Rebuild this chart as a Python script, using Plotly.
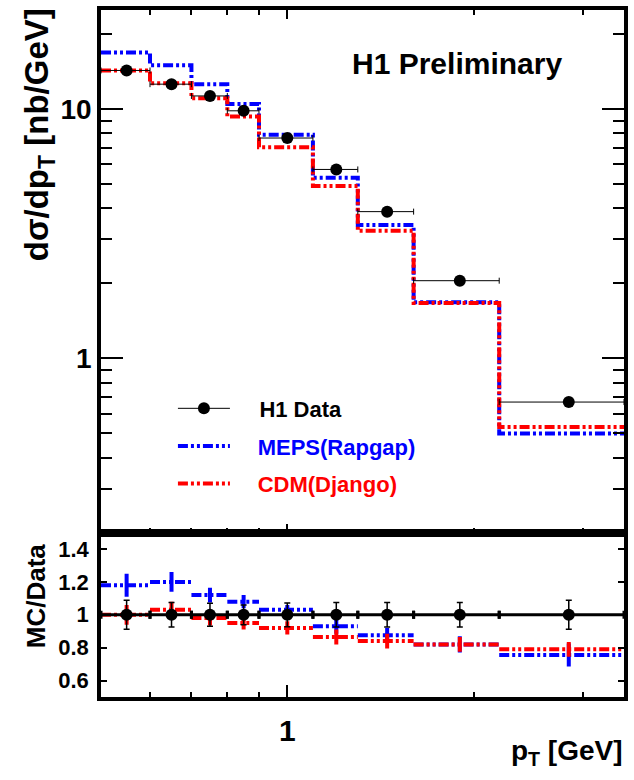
import plotly.graph_objects as go

# ---------------- data ----------------
bin_edges = [0.5, 0.6, 0.7, 0.8, 0.9, 1.1, 1.3, 1.6, 2.2, 3.5]
pt_centers = [0.55, 0.65, 0.75, 0.85, 1.0, 1.2, 1.45, 1.9, 2.85]

h1_data = [14.3, 12.6, 11.3, 9.85, 7.66, 5.73, 3.88, 2.05, 0.668]
data_rel_err = [0.088, 0.074, 0.07, 0.06, 0.072, 0.075, 0.074, 0.074, 0.088]

meps_rapgap = [16.9, 15.0, 12.6, 10.5, 7.9, 5.31, 3.43, 1.68, 0.50]
cdm_django = [14.3, 12.7, 11.06, 9.35, 7.03, 4.92, 3.25, 1.67, 0.531]

data_ratio = [1, 1, 1, 1, 1, 1, 1, 1, 1]
meps_ratio = [1.18, 1.20, 1.12, 1.08, 1.03, 0.93, 0.875, 0.82, 0.755]
meps_ratio_err = [0.07, 0.06, 0.045, 0.04, 0.03, 0.045, 0.045, 0.05, 0.07]
cdm_ratio = [1.0, 1.03, 0.98, 0.95, 0.92, 0.865, 0.84, 0.82, 0.79]
cdm_ratio_err = [0.06, 0.05, 0.045, 0.04, 0.04, 0.045, 0.045, 0.045, 0.045]

x_tickvals = [1]
x_ticktext = ["1"]
x_minor = [0.6, 0.7, 0.8, 0.9, 2, 3]
y_tickvals = [1, 10]
y_ticktext = ["1", "10"]
y_minor = [0.2, 0.3, 0.4, 0.5, 0.6, 0.7, 0.8, 0.9, 2, 3, 4, 5, 6, 7, 8, 9, 20]
r_tickvals = [0.6, 0.8, 1.0, 1.2, 1.4]
r_ticktext = ["0.6", "0.8", "1", "1.2", "1.4"]

# ---------------- derived helpers ----------------
lo = bin_edges[:-1]
hi = bin_edges[1:]
ex_plus = [h - c for h, c in zip(hi, pt_centers)]
ex_minus = [c - l for l, c in zip(lo, pt_centers)]


def segments(vals):
    xs, ys = [], []
    for a, b, v in zip(lo, hi, vals):
        xs += [a, b, None]
        ys += [v, v, None]
    return xs, ys


BLUE = "#0000ff"
RED = "#ff0000"
DASH = "10px,3px,3px,3px,3px,3px"
FONT = "Liberation Sans, Arial, sans-serif"
NB = "\u00a0"
TH = "\u2009"

fig = go.Figure()

# ---- top panel: MC step histograms ----
fig.add_trace(go.Scatter(
    x=bin_edges, y=meps_rapgap + [meps_rapgap[-1]], mode="lines", line_shape="hv",
    line=dict(color=BLUE, width=4, dash=DASH),
    name=NB * 3 + TH + '<span style="color:#0000ff">MEPS(Rapgap)</span>', legendgroup="b", legendrank=2,
    xaxis="x", yaxis="y"))
fig.add_trace(go.Scatter(
    x=bin_edges, y=cdm_django + [cdm_django[-1]], mode="lines", line_shape="hv",
    line=dict(color=RED, width=4, dash=DASH),
    name=NB * 3 + TH + '<span style="color:#ff0000">CDM(Django)</span>', legendgroup="c", legendrank=3,
    xaxis="x", yaxis="y"))

# ---- top panel: data ----
fig.add_trace(go.Scatter(
    x=pt_centers, y=h1_data, mode="markers",
    marker=dict(color="black", size=12),
    error_x=dict(type="data", symmetric=False, array=ex_plus, arrayminus=ex_minus,
                 color="black", thickness=1, width=3),
    showlegend=False, xaxis="x", yaxis="y"))
# legend entry for data (line + marker)
fig.add_trace(go.Scatter(
    x=[None], y=[None], mode="lines+markers",
    marker=dict(color="black", size=12), line=dict(color="black", width=1),
    name=NB * 4 + "H1 Data", legendgroup="a", legendrank=1, xaxis="x", yaxis="y"))

# ---- ratio panel ----
for vals, errs, col in [(meps_ratio, meps_ratio_err, BLUE), (cdm_ratio, cdm_ratio_err, RED)]:
    sx, sy = segments(vals)
    fig.add_trace(go.Scatter(
        x=sx, y=sy, mode="lines", line=dict(color=col, width=4, dash=DASH),
        showlegend=False, xaxis="x2", yaxis="y2"))
    fig.add_trace(go.Scatter(
        x=pt_centers, y=vals, mode="markers", marker=dict(size=1, color=col, opacity=0),
        error_y=dict(type="data", array=errs, color=col, thickness=4, width=0),
        showlegend=False, xaxis="x2", yaxis="y2"))

fig.add_trace(go.Scatter(
    x=pt_centers, y=data_ratio, mode="markers",
    marker=dict(color="black", size=12),
    error_x=dict(type="data", symmetric=False, array=ex_plus, arrayminus=ex_minus,
                 color="black", thickness=3, width=4),
    error_y=dict(type="data", array=data_rel_err, color="black", thickness=1.5, width=3),
    showlegend=False, xaxis="x2", yaxis="y2"))

# ---------------- layout ----------------
ML, MR, MT, MB = 101, 9.5, 6, 82.5
W, H = 634, 780
PW, PH = W - ML - MR, H - MT - MB
split = (697.5 - 532) / PH

frame = dict(showline=True, linecolor="black", linewidth=3.5, showgrid=False, zeroline=False)
tickfont = dict(family=FONT, size=28, color="black", weight="bold")

fig.update_layout(
    width=W, height=H,
    margin=dict(l=ML, r=MR, t=MT, b=MB, pad=0),
    paper_bgcolor="white", plot_bgcolor="white",
    font=dict(family=FONT, color="black"),
    xaxis=dict(type="log", range=[-0.30103, 0.544068], domain=[0, 1], anchor="y",
               mirror="ticks", ticks="inside", ticklen=9, tickwidth=1.5, tickcolor="black",
               tickvals=x_tickvals, ticktext=x_ticktext, showticklabels=False,
               minor=dict(tickvals=x_minor, ticks="inside", ticklen=5, tickwidth=1.5, tickcolor="black"),
               **frame),
    yaxis=dict(type="log", range=[-0.69897, 1.39794], domain=[split, 1], anchor="x",
               mirror="ticks", ticks="inside", ticklen=22, tickwidth=1.5, tickcolor="black",
               tickvals=y_tickvals, ticktext=y_ticktext, tickfont=tickfont,
               minor=dict(tickvals=y_minor, ticks="inside", ticklen=11, tickwidth=1.5, tickcolor="black"),
               **frame),
    xaxis2=dict(type="log", range=[-0.30103, 0.544068], domain=[0, 1], anchor="y2",
                mirror=True, ticks="inside", ticklen=12, tickwidth=1.5, tickcolor="black",
                tickvals=x_tickvals, ticktext=x_ticktext, ticklabelstandoff=4,
                tickfont=dict(family=FONT, size=30, color="black", weight="bold"),
                minor=dict(tickvals=x_minor, ticks="inside", ticklen=5, tickwidth=1.5, tickcolor="black"),
                **frame),
    yaxis2=dict(range=[0.5, 1.5], domain=[0, split], anchor="x2",
                mirror="ticks", ticks="inside", ticklen=6, tickwidth=1.5, tickcolor="black",
                tickvals=r_tickvals, ticktext=r_ticktext, ticklabelstandoff=4,
                tickfont=dict(family=FONT, size=22, color="black", weight="bold"),
                **frame),
    legend=dict(x=(173 - ML) / PW, y=(697.5 - 386) / PH, xanchor="left", yanchor="top",
                bgcolor="rgba(0,0,0,0)", itemwidth=52, tracegroupgap=6,
                traceorder="grouped",
                font=dict(family=FONT, size=22, color="black", weight="bold")),
    annotations=[
        dict(text="H1 Preliminary", x=(457 - ML) / PW, y=(697.5 - 60) / PH, xref="paper", yref="paper",
             showarrow=False, xanchor="center", yanchor="middle",
             font=dict(family=FONT, size=30, color="black", weight="bold")),
        dict(text="dσ/dp<sub>T</sub> [nb/GeV]", x=(39 - ML) / PW, y=(697.5 - 132) / PH,
             xref="paper", yref="paper", showarrow=False, textangle=-90,
             xanchor="center", yanchor="middle",
             font=dict(family=FONT, size=33, color="black", weight="bold")),
        dict(text="MC/Data", x=(36 - ML) / PW, y=(697.5 - 596) / PH,
             xref="paper", yref="paper", showarrow=False, textangle=-90,
             xanchor="center", yanchor="middle",
             font=dict(family=FONT, size=26, color="black", weight="bold")),
        dict(text="p<sub>T</sub> [GeV]", x=(626 - ML) / PW, y=(697.5 - 753) / PH,
             xref="paper", yref="paper", showarrow=False,
             xanchor="right", yanchor="middle",
             font=dict(family=FONT, size=28, color="black", weight="bold")),
    ],
)

fig.write_html("out.html", config={"displayModeBar": False},
               post_script="document.body.style.margin='0px';document.body.style.overflow='hidden';")
